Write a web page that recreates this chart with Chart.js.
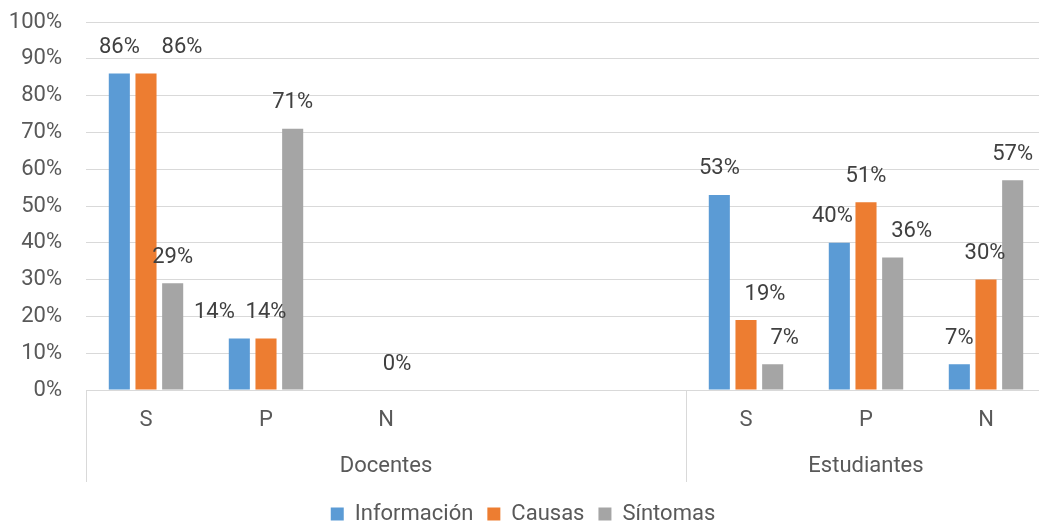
<!DOCTYPE html>
<html>
<head>
<meta charset="utf-8">
<script src="https://cdn.jsdelivr.net/npm/chart.js@4.4.1/dist/chart.umd.min.js"></script>
<style>
    html, body { margin: 0; padding: 0; background: #fff; overflow: hidden; }
    #barChart { display: block; }
</style>
</head>
<body>
<canvas id="barChart" width="1068" height="540"></canvas>
<script>
// categories of the x axis (two empty slots after Docentes)
const categories = ['S', 'P', 'N', '', '', 'S', 'P', 'N'];

// outer group labels and how many categories each one covers
const groupNames = ['Docentes', 'Estudiantes'];
const groupSizes = [5, 3];

// series values in percent
const informacion = [86, 14, null, null, null, 53, 40, 7];
const causas = [86, 14, 0, null, null, 19, 51, 30];
const sintomas = [29, 71, null, null, null, 7, 36, 57];

// y axis tick values
const yTicks = [0, 10, 20, 30, 40, 50, 60, 70, 80, 90, 100];

// the labels in the picture were dragged sideways by hand, shift in px
const labelShift = [
    [0, -25, 0, 0, 0, 0, -7, 0],
    [36, 0, 11, 0, 0, 19, 0, -1],
    [0, 0, 0, 0, 0, 12, 19, 0]
];

const fontFamily = 'Roboto, "Open Sans", sans-serif';

/**
 * draw the value above each bar
 */
const valueLabels = {
    id: 'valueLabels',
    afterDatasetsDraw (chart) {
        const ctx = chart.ctx;
        ctx.save();
        ctx.font = '22px ' + fontFamily;
        ctx.fillStyle = '#404040';
        ctx.textAlign = 'center';
        ctx.textBaseline = 'middle';
        chart.data.datasets.forEach(function (ds, d) {
            const meta = chart.getDatasetMeta(d);
            meta.data.forEach(function (bar, i) {
                if (ds.data[i] === null) return;
                ctx.fillText(ds.data[i] + '%', bar.x + labelShift[d][i], bar.y - 26);
            });
        });
        ctx.restore();
    }
};

/**
 * draw the second level of the category axis
 */
const groupAxis = {
    id: 'groupAxis',
    afterDraw (chart) {
        const ctx = chart.ctx;
        const x = chart.scales.x;
        const area = chart.chartArea;
        const step = x.getPixelForValue(1) - x.getPixelForValue(0);
        ctx.save();
        ctx.strokeStyle = '#d9d9d9';
        ctx.lineWidth = 1;
        ctx.font = '22px ' + fontFamily;
        ctx.fillStyle = '#595959';
        ctx.textAlign = 'center';
        ctx.textBaseline = 'middle';
        let start = 0;
        const edges = [start];
        groupSizes.forEach(function (n) {
            start += n;
            edges.push(start);
        });
        edges.forEach(function (e) {
            const px = Math.round(x.getPixelForValue(0) - step / 2 + e * step) + 0.5;
            ctx.beginPath();
            ctx.moveTo(px, area.bottom);
            ctx.lineTo(px, area.bottom + 92);
            ctx.stroke();
        });
        groupNames.forEach(function (name, g) {
            const mid = x.getPixelForValue(0) - step / 2 + (edges[g] + edges[g + 1]) / 2 * step;
            ctx.fillText(name, mid, area.bottom + 76);
        });
        ctx.restore();
    }
};

const data = {
    labels: categories,
    datasets: [
        { label: 'Información', data: informacion, backgroundColor: '#5b9bd5' },
        { label: 'Causas', data: causas, backgroundColor: '#ed7d31' },
        { label: 'Síntomas', data: sintomas, backgroundColor: '#a5a5a5' }
    ]
};

const config = {
    type: 'bar',
    data: data,
    options: {
        responsive: false,
        animation: false,
        categoryPercentage: 0.667,
        barPercentage: 0.79,
        layout: {
            padding: { left: 0, right: 22, top: 22, bottom: 5 }
        },
        scales: {
            x: {
                grid: { display: false, drawTicks: false },
                border: { display: true, color: '#d9d9d9', width: 1 },
                ticks: {
                    color: '#595959',
                    font: { family: fontFamily, size: 22 },
                    padding: 17,
                    maxRotation: 0,
                    autoSkip: false
                },
                afterFit (scale) { scale.height = 99; }
            },
            y: {
                min: 0,
                max: 100,
                afterBuildTicks (scale) {
                    scale.ticks = yTicks.map(function (v) { return { value: v }; });
                },
                grid: { color: '#d9d9d9', drawTicks: false },
                border: { display: false },
                ticks: {
                    color: '#595959',
                    font: { family: fontFamily, size: 22 },
                    padding: 24,
                    callback: function (v) { return v + '%'; }
                },
                afterFit (scale) {
                    scale.width = 86;
                    scale.paddingTop = 0;
                    scale.paddingBottom = 0;
                }
            }
        },
        plugins: {
            legend: {
                position: 'bottom',
                labels: {
                    color: '#595959',
                    font: { family: fontFamily, size: 22 },
                    boxWidth: 13,
                    boxHeight: 13,
                    padding: 14
                }
            },
            tooltip: { enabled: false }
        }
    },
    plugins: [valueLabels, groupAxis]
};

// link the chart to html
const myChart = new Chart(
    document.getElementById('barChart'),
    config
);
</script>
</body>
</html>
